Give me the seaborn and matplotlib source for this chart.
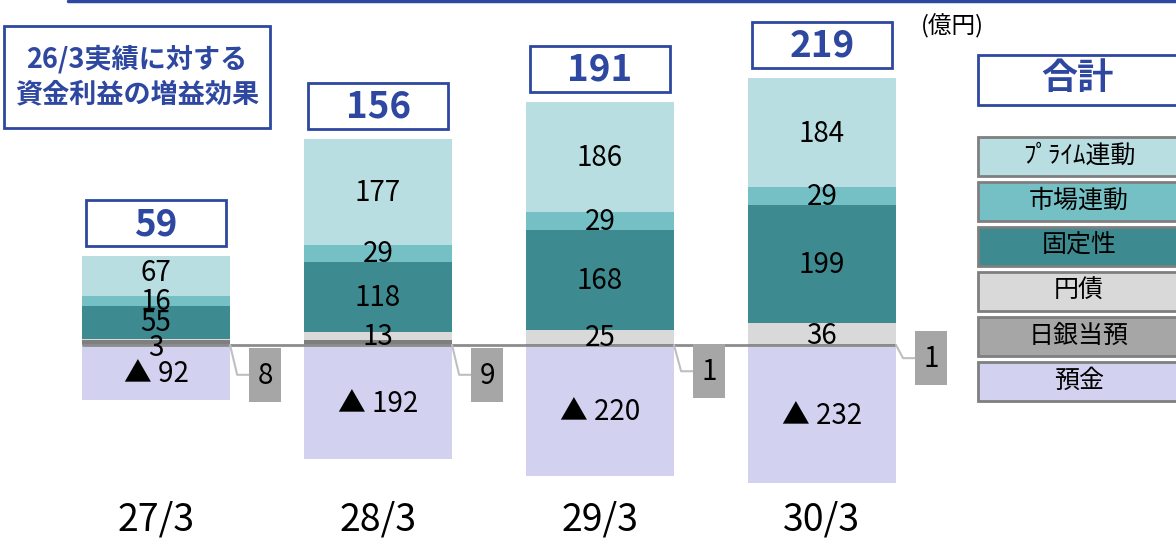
import numpy as np
import pandas as pd
import matplotlib
matplotlib.use("Agg")
import matplotlib.pyplot as plt
from matplotlib.patches import Rectangle
import seaborn as sns

# ---------------- data ----------------
categories = ["27/3", "28/3", "29/3", "30/3"]
totals = [59, 156, 191, 219]
prime = [67, 177, 186, 184]        # ﾌﾟﾗｲﾑ連動
market = [16, 29, 29, 29]          # 市場連動
fixed = [55, 118, 168, 199]        # 固定性
yen_bonds = [3, 13, 25, 36]        # 円債
boj = [8, 9, 1, 1]                 # 日銀当預
deposits = [-92, -192, -220, -232] # 預金

legend_labels = ["ﾌﾟﾗｲﾑ連動", "市場連動", "固定性", "円債", "日銀当預", "預金"]

# ---------------- style ----------------
sns.set_theme(style="white")
plt.rcParams["font.family"] = ["Noto Sans CJK JP", "DejaVu Sans"]

C_PRIME = "#B9DEE1"
C_MARKET = "#74C0C5"
C_FIXED = "#3D8B90"
C_YEN = "#D9D9D9"
C_BOJ = "#7F7F7F"
C_BOJ_BOX = "#A6A6A6"
C_DEP = "#D2D2F0"
C_BLUE = "#2E47A0"

W, H = 11.76, 5.39
fig = plt.figure(figsize=(W, H), dpi=100)
ax = fig.add_axes([0, 0, 1, 1])

# stack cumulative
b = np.array(boj, float)
y = b + np.array(yen_bonds)
f = y + np.array(fixed)
m = f + np.array(market)
p = m + np.array(prime)

bar_w = 0.667
layers = [(p, C_PRIME), (m, C_MARKET), (f, C_FIXED), (y, C_YEN), (b, C_BOJ)]
for vals, col in layers:
    sns.barplot(x=categories, y=vals, order=categories, color=col, saturation=1,
                width=bar_w, linewidth=0, ax=ax, errorbar=None)
sns.barplot(x=categories, y=np.array(deposits, float), order=categories, color=C_DEP,
            saturation=1, width=bar_w, linewidth=0, ax=ax, errorbar=None)

# pixel mapping: zero at y=345px, 0.595 px/unit, categories every 222px starting 156px
ax.set_ylim(-326, 580)
ax.set_xlim(-0.703, 4.595)
ax.axis("off")

# zero line
ax.plot([-bar_w / 2, 3 + bar_w / 2], [0, 0], color="#8C8C8C", lw=2, zorder=3,
        solid_capstyle="butt")

label_fs = 20
txt_kw = dict(ha="center", va="center", fontsize=label_fs, color="black", zorder=6)
# nudges (value units) for crowded first column
nudge_prime = [7, 0, 0, 0]
nudge_yen = [-15, -2, -2, -4]
for i in range(4):
    ax.text(i, (m[i] + p[i]) / 2 + nudge_prime[i] - 2, f"{prime[i]}", **txt_kw)
    ax.text(i, (f[i] + m[i]) / 2 - 2, f"{market[i]}", **txt_kw)
    ax.text(i, (y[i] + f[i]) / 2 - 2, f"{fixed[i]}", **txt_kw)
    ax.text(i, (b[i] + y[i]) / 2 + nudge_yen[i], f"{yen_bonds[i]}", **txt_kw)
    ax.text(i, deposits[i] / 2 - 3, f"▲ {abs(deposits[i])}", **txt_kw)

# total boxes
box_w, box_h, gap = 0.63, 77, 17
for i in range(4):
    y0 = p[i] + gap
    ax.add_patch(Rectangle((i - box_w / 2, y0), box_w, box_h, facecolor="white",
                           edgecolor=C_BLUE, lw=2, zorder=5))
    ax.text(i, y0 + box_h / 2 - 2, f"{totals[i]}", ha="center", va="center",
            fontsize=26.5, fontweight="bold", color=C_BLUE, zorder=6)

# BOJ callout boxes
callout_y = [-50, -50, -44, -22]
cb_w, cb_h = 0.144, 91
for i in range(4):
    xr = i + bar_w / 2
    xl = xr + 0.0856
    cy = callout_y[i]
    ax.plot([xr, xr + 0.032, xl], [0, cy, cy], color="#BFBFBF", lw=1.5, zorder=4)
    ax.add_patch(Rectangle((xl, cy - cb_h / 2), cb_w, cb_h, facecolor=C_BOJ_BOX,
                           edgecolor="none", zorder=5))
    ax.text(xl + cb_w / 2, cy - 2, f"{boj[i]}", ha="center", va="center",
            fontsize=label_fs, color="black", zorder=6)

# category labels
for i, c in enumerate(categories):
    ax.text(i, -294, c, ha="center", va="center", fontsize=27, color="black")

# ---------------- overlay in pixel coordinates ----------------
ov = fig.add_axes([0, 0, 1, 1], facecolor="none")
ov.set_xlim(0, 1176)
ov.set_ylim(539, 0)
ov.axis("off")

ov.plot([68, 1176], [1, 1], color=C_BLUE, lw=2.5)

ov.add_patch(Rectangle((4, 26), 266, 102, facecolor="white", edgecolor=C_BLUE, lw=2))
ov.text(137, 59, "26/3実績に対する", ha="center", va="center", fontsize=19.5,
        fontweight="bold", color=C_BLUE)
ov.text(137, 94, "資金利益の増益効果", ha="center", va="center", fontsize=19.5,
        fontweight="bold", color=C_BLUE)

ov.text(952, 26, "(億円)", ha="center", va="center", fontsize=17, color="black")

ov.add_patch(Rectangle((978, 55), 220, 50, facecolor="white", edgecolor=C_BLUE, lw=2))
ov.text(1077, 79, "合計", ha="center", va="center", fontsize=26, fontweight="bold",
        color=C_BLUE)

leg_colors = [C_PRIME, C_MARKET, C_FIXED, C_YEN, C_BOJ_BOX, C_DEP]
for k, (lab, col) in enumerate(zip(legend_labels, leg_colors)):
    top = 137 + k * 45
    ov.add_patch(Rectangle((978, top), 220, 39, facecolor=col, edgecolor="#7F7F7F",
                           lw=2))
    ov.text(1079, top + 19, lab, ha="center", va="center", fontsize=18,
            color="black")

fig.savefig("out.png", dpi=100)
